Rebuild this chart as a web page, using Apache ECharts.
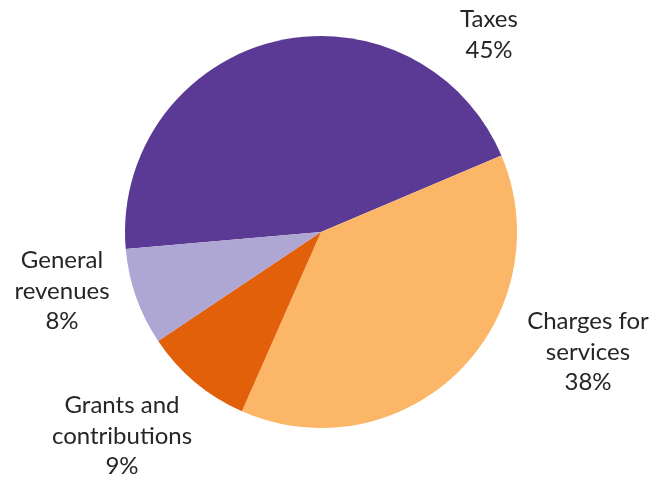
<!DOCTYPE html>
<html>
<head>
<meta charset="utf-8">
<script src="https://cdn.jsdelivr.net/npm/echarts@6/dist/echarts.min.js"></script>
<style>
html,body{margin:0;padding:0;background:#fff;}
#chart{width:652px;height:478px;}
</style>
</head>
<body>
<div id="chart"></div>
<script>
const categories = ['Taxes', 'Charges for\nservices', 'Grants and\ncontributions', 'General\nrevenues'];
const values = [45, 38, 9, 8];
const colors = ['#5B3A96', '#FBB767', '#E3600B', '#AEA6D3'];

// label anchor positions (layout only)
const labelPos = [[489, 35], [588, 352], [122, 436], [62, 291]];

const chart = echarts.init(document.getElementById('chart'), null, {renderer: 'canvas'});
chart.setOption({
  animation: false,
  series: [{
    type: 'pie',
    center: [321, 232],
    radius: 196,
    startAngle: 185,
    clockwise: true,
    itemStyle: {borderWidth: 0},
    emphasis: {disabled: true},
    label: {
      show: true,
      position: 'outside',
      overflow: 'none',
      alignTo: 'none',
      formatter: p => p.name + '\n' + p.value + '%',
      fontFamily: 'Lato',
      fontSize: 24,
      lineHeight: 30.5,
      color: '#262626',
      align: 'center'
    },
    labelLine: {show: false},
    labelLayout: function (params) {
      const pos = labelPos[params.dataIndex];
      return {
        x: pos[0],
        y: pos[1],
        align: 'center',
        verticalAlign: 'middle'
      };
    },
    data: categories.map((c, i) => ({name: c, value: values[i], itemStyle: {color: colors[i]}}))
  }]
});
</script>
</body>
</html>
